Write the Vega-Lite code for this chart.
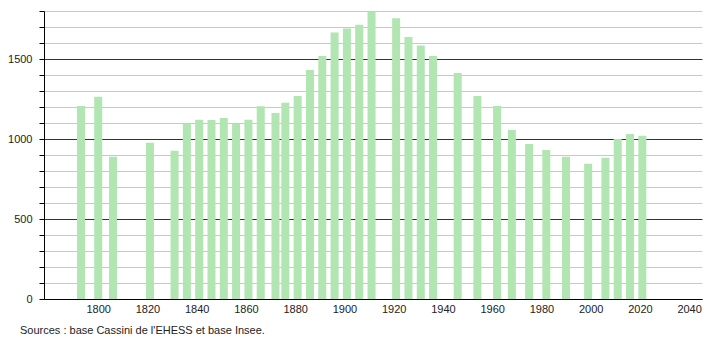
{
  "$schema": "https://vega.github.io/schema/vega-lite/v6.json",
  "autosize": "none",
  "width": 658,
  "height": 288,
  "padding": {"left": 44, "top": 11, "right": 8, "bottom": 41},
  "background": "white",
  "config": {
    "view": {"stroke": null},
    "font": "Liberation Sans",
    "axis": {"labelFont": "Liberation Sans", "labelFontSize": 11, "labelColor": "#222"}
  },
  "title": {
    "text": "Sources : base Cassini de l'EHESS et base Insee.",
    "orient": "bottom",
    "anchor": "start",
    "frame": "group",
    "dx": -24,
    "offset": 11,
    "fontSize": 11,
    "fontWeight": "normal",
    "font": "Liberation Sans",
    "color": "#222"
  },
  "data": {
    "values": [
      {"year": 1793, "pop": 1207},
      {"year": 1800, "pop": 1264},
      {"year": 1806, "pop": 889},
      {"year": 1821, "pop": 977},
      {"year": 1831, "pop": 927},
      {"year": 1836, "pop": 1096},
      {"year": 1841, "pop": 1121},
      {"year": 1846, "pop": 1119},
      {"year": 1851, "pop": 1131},
      {"year": 1856, "pop": 1096},
      {"year": 1861, "pop": 1121},
      {"year": 1866, "pop": 1204},
      {"year": 1872, "pop": 1162},
      {"year": 1876, "pop": 1227},
      {"year": 1881, "pop": 1269},
      {"year": 1886, "pop": 1431},
      {"year": 1891, "pop": 1519},
      {"year": 1896, "pop": 1665},
      {"year": 1901, "pop": 1690},
      {"year": 1906, "pop": 1714},
      {"year": 1911, "pop": 1796},
      {"year": 1921, "pop": 1754},
      {"year": 1926, "pop": 1637},
      {"year": 1931, "pop": 1585},
      {"year": 1936, "pop": 1519},
      {"year": 1946, "pop": 1412},
      {"year": 1954, "pop": 1269},
      {"year": 1962, "pop": 1206},
      {"year": 1968, "pop": 1056},
      {"year": 1975, "pop": 969},
      {"year": 1982, "pop": 931},
      {"year": 1990, "pop": 889},
      {"year": 1999, "pop": 846},
      {"year": 2006, "pop": 883},
      {"year": 2011, "pop": 1000},
      {"year": 2016, "pop": 1031},
      {"year": 2021, "pop": 1021}
    ]
  },
  "mark": {"type": "bar", "size": 8, "color": "#b1e5b1"},
  "encoding": {
    "x": {
      "field": "year",
      "type": "quantitative",
      "scale": {"domain": [1780, 2043.2], "nice": false, "zero": false},
      "axis": {
        "title": null,
        "values": [1800, 1820, 1840, 1860, 1880, 1900, 1920, 1940, 1960, 1980, 2000, 2020, 2040],
        "format": "d",
        "grid": false,
        "ticks": false,
        "domainColor": "#000",
        "domainWidth": 1,
        "labelPadding": 4,
        "labelFlush": false
      }
    },
    "y": {
      "field": "pop",
      "type": "quantitative",
      "scale": {"domain": [0, 1800], "nice": false},
      "axis": {
        "title": null,
        "values": [0, 100, 200, 300, 400, 500, 600, 700, 800, 900, 1000, 1100, 1200, 1300, 1400, 1500, 1600, 1700, 1800],
        "labelExpr": "datum.value % 500 === 0 ? datum.label : ''",
        "format": "d",
        "grid": true,
        "gridColor": {"condition": {"test": "datum.value % 500 === 0", "value": "#333333"}, "value": "#c8c8c8"},
        "gridWidth": 1,
        "gridOpacity": 1,
        "ticks": true,
        "tickSize": 5,
        "tickColor": "#000",
        "domainColor": "#000",
        "domainWidth": 1,
        "labelPadding": 7,
        "labelFlush": false
      }
    }
  }
}
